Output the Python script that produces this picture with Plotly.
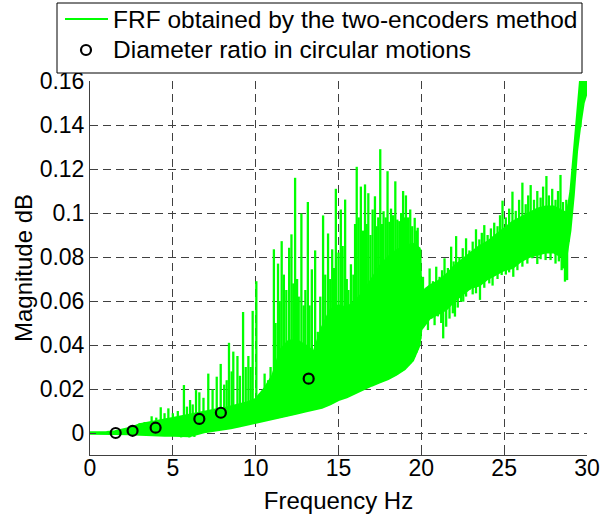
import numpy as np
import plotly.graph_objects as go

# ---- data ----
# solid core of the measured FRF (lower / upper edge)
band_freq = [0.0, 0.5, 1.0, 1.5, 2.0, 2.5, 3.0, 3.5, 4.0, 4.5, 5.0, 5.5, 6.0, 6.5, 7.0, 7.5,
             8.0, 8.5, 9.0, 9.5, 10.0, 10.5, 11.0, 11.5, 12.0, 12.5, 13.0, 13.5, 14.0, 14.5,
             15.0, 15.5, 16.0, 16.5, 17.0, 17.5, 18.0, 18.5, 19.0, 19.5, 19.9,
             20.0, 20.5, 21.0, 21.5, 22.0, 22.5, 23.0, 23.5, 24.0, 24.5, 25.0, 25.5, 26.0,
             26.5, 27.0, 27.5, 28.0, 28.5, 28.8, 29.0, 29.2, 29.4, 29.6, 29.8, 30.0]
band_low = [-0.0003, -0.0003, -0.0004, -0.0005, -0.0006, -0.0006, -0.0008, -0.0010, -0.0010,
            -0.0012, -0.0012, -0.0015, -0.0015, -0.0005, 0.0005, 0.0010, 0.0015, 0.0022,
            0.0030, 0.0038, 0.0045, 0.0055, 0.0062, 0.0070, 0.0078, 0.0088, 0.0098, 0.0106,
            0.0115, 0.0130, 0.0150, 0.0162, 0.0180, 0.0198, 0.0215, 0.0230, 0.0245, 0.0265,
            0.0290, 0.0330, 0.0400,
            0.0470, 0.0520, 0.0540, 0.0560, 0.0600, 0.0630, 0.0660, 0.0670, 0.0700, 0.0720,
            0.0740, 0.0750, 0.0780, 0.0800, 0.0810, 0.0820, 0.0820, 0.0800, 0.0820, 0.0920,
            0.1080, 0.1280, 0.1400, 0.1500, 0.1550]
band_high = [0.0003, 0.0003, 0.0005, 0.0008, 0.0015, 0.0025, 0.0040, 0.0048, 0.0055, 0.0062,
             0.0068, 0.0076, 0.0085, 0.0092, 0.0100, 0.0106, 0.0112, 0.0122, 0.0130, 0.0140,
             0.0155, 0.0200, 0.0260, 0.0380, 0.0420, 0.0420, 0.0400, 0.0370, 0.0480, 0.0560,
             0.0580, 0.0570, 0.0600, 0.0640, 0.0700, 0.0760, 0.0800, 0.0830, 0.0850, 0.0860,
             0.0840,
             0.0640, 0.0670, 0.0690, 0.0720, 0.0760, 0.0790, 0.0820, 0.0850, 0.0870, 0.0900,
             0.0930, 0.0960, 0.0980, 0.1000, 0.1020, 0.1030, 0.1030, 0.1010, 0.1000, 0.1100,
             0.1280, 0.1480, 0.1620, 0.1700, 0.1750]

# upward peaks (frequency, peak value)
spike_freq = [2.5, 3.0, 3.3, 3.72, 4.0, 4.27, 4.5, 4.73, 5.0, 5.3, 5.67, 5.85, 6.04, 6.2,
              6.4, 6.6, 6.85, 7.14, 7.4, 7.65, 7.89, 8.1, 8.25, 8.39, 8.55, 8.65, 8.9, 9.05,
              9.24, 9.4, 9.56, 9.7, 9.82, 10.04, 10.26,
              10.54, 10.75, 10.9, 11.1, 11.2, 11.35, 11.45, 11.57, 11.7, 11.85, 12.02, 12.16,
              12.27, 12.38, 12.5, 12.6, 12.76, 12.9, 13.0, 13.15, 13.25, 13.39, 13.59, 13.75,
              13.9, 14.07, 14.2, 14.37, 14.5, 14.62, 14.72, 14.84, 15.0, 15.14, 15.25, 15.4,
              15.5, 15.6, 15.75, 15.9, 16.0, 16.1, 16.22, 16.35, 16.47, 16.6, 16.7, 16.8,
              16.93, 17.06, 17.2, 17.3, 17.4, 17.52, 17.62, 17.72, 17.85, 17.96, 18.07, 18.17,
              18.3, 18.43, 18.55, 18.67, 18.78, 18.9, 19.0, 19.07, 19.2, 19.33, 19.45, 19.6,
              19.7, 19.78, 19.94,
              20.1, 20.3, 20.5, 20.7, 20.9, 21.1, 21.25, 21.4, 21.6, 21.8, 21.95, 22.1, 22.3,
              22.5, 22.7, 22.9, 23.1, 23.3, 23.5, 23.65, 23.8, 24.0, 24.2, 24.4, 24.6, 24.75,
              24.9, 25.1, 25.3, 25.5, 25.7, 25.9, 26.1, 26.3, 26.45, 26.6, 26.8, 27.0, 27.2,
              27.35, 27.55, 27.7, 27.9, 28.1, 28.25, 28.4, 28.55, 28.75, 28.9]
spike_top = [0.0030, 0.0045, 0.0050, 0.0076, 0.0070, 0.0117, 0.0090, 0.0112, 0.0090, 0.0100,
             0.0218, 0.0120, 0.0150, 0.0130, 0.0195, 0.0185, 0.0160, 0.0270, 0.0198, 0.0256,
             0.0314, 0.0220, 0.0240, 0.0410, 0.0280, 0.0370, 0.0350, 0.0260, 0.0550, 0.0300,
             0.0350, 0.0300, 0.0555, 0.0690, 0.0180,
             0.0270, 0.0240, 0.0300, 0.0835, 0.0500, 0.0770, 0.0600, 0.0872, 0.0720, 0.0650,
             0.0842, 0.0903, 0.0680, 0.1160, 0.0700, 0.0620, 0.0998, 0.0580, 0.0650, 0.1050,
             0.0580, 0.0744, 0.0830, 0.0460, 0.0620, 0.0989, 0.0720, 0.0907, 0.0700, 0.0835,
             0.0750, 0.1110, 0.0820, 0.1016, 0.0850, 0.1061, 0.0700, 0.0650, 0.0767, 0.0720,
             0.0950, 0.1210, 0.0980, 0.1120, 0.0920, 0.1130, 0.0950, 0.1090, 0.0900, 0.1016,
             0.1076, 0.0940, 0.0980, 0.1290, 0.0950, 0.1008, 0.0980, 0.1190, 0.0960, 0.1020,
             0.0990, 0.1144, 0.0970, 0.0963, 0.1000, 0.1100, 0.0980, 0.1080, 0.0980, 0.1016,
             0.0940, 0.0978, 0.0920, 0.0933, 0.0835,
             0.0710, 0.0660, 0.0748, 0.0690, 0.0756, 0.0710, 0.0740, 0.0794, 0.0750, 0.0847,
             0.0780, 0.0895, 0.0800, 0.0840, 0.0885, 0.0830, 0.0870, 0.0926, 0.0880, 0.0910,
             0.0945, 0.0900, 0.0930, 0.0956, 0.0940, 0.0990, 0.1056, 0.0980, 0.1020, 0.1097,
             0.1010, 0.1060, 0.1138, 0.1040, 0.1080, 0.1127, 0.1060, 0.1100, 0.1070, 0.1120,
             0.1168, 0.1080, 0.1110, 0.1060, 0.1100, 0.1173, 0.1050, 0.1060, 0.1040]

# downward dips (frequency, dip value)
dip_freq = [5.5, 6.0, 6.3, 20.2, 20.4, 20.6, 20.8, 21.0, 21.2, 21.32, 21.5, 21.7, 21.9, 22.03,
            22.2, 22.4, 22.53, 22.7, 22.9, 23.1, 23.3, 23.54, 23.8, 24.1, 24.3, 24.6, 24.85,
            25.1, 25.3, 25.55, 25.8, 26.1, 26.4, 26.7, 27.0, 27.2, 27.5, 27.8, 28.1, 28.3,
            28.47, 28.55, 28.67, 28.8, 29.6]
dip_low = [-0.0020, -0.0020, -0.0018, 0.0500, 0.0468, 0.0520, 0.0490, 0.0530, 0.0500, 0.0430,
           0.0483, 0.0520, 0.0544, 0.0529, 0.0570, 0.0597, 0.0597, 0.0620, 0.0650, 0.0630,
           0.0635, 0.0605, 0.0660, 0.0680, 0.0670, 0.0700, 0.0718, 0.0720, 0.0730, 0.0710,
           0.0740, 0.0756, 0.0770, 0.0794, 0.0768, 0.0790, 0.0786, 0.0786, 0.0770, 0.0780,
           0.0740, 0.0748, 0.0688, 0.0695, 0.1390]

circle_freq = [1.55, 2.57, 3.96, 6.60, 7.90, 13.20]
circle_val = [0.0000, 0.0010, 0.0024, 0.0064, 0.0092, 0.0247]

x_ticks = [0, 5, 10, 15, 20, 25, 30]
y_ticks = [0, 0.02, 0.04, 0.06, 0.08, 0.1, 0.12, 0.14, 0.16]
y_ticktext = ["0", "0.02", "0.04", "0.06", "0.08", "0.1", "0.12", "0.14", "0.16"]

legend_labels = ["FRF obtained by the two-encoders method",
                 "Diameter ratio in circular motions"]

GREEN = "#00FF00"
FONT = "Liberation Sans"

# vertical segments for peaks (from the core's lower edge up) and dips (up to the core's top)
sx, sy = [], []
for f, t in zip(spike_freq, spike_top):
    base = float(np.interp(f, band_freq, band_low))
    sx += [f, f, None]
    sy += [base, t, None]
for f, d in zip(dip_freq, dip_low):
    top = float(np.interp(f, band_freq, band_high))
    sx += [f, f, None]
    sy += [d, top, None]

fig = go.Figure()
fig.add_trace(go.Scatter(x=sx, y=sy, mode="lines", line=dict(color=GREEN, width=2.3),
                         name=legend_labels[0], showlegend=False))
fig.add_trace(go.Scatter(x=band_freq, y=band_low, mode="lines",
                         line=dict(color=GREEN, width=2), showlegend=False, hoverinfo="skip"))
fig.add_trace(go.Scatter(x=band_freq, y=band_high, mode="lines", fill="tonexty",
                         fillcolor=GREEN, line=dict(color=GREEN, width=2),
                         showlegend=False, hoverinfo="skip"))
fig.add_trace(go.Scatter(x=circle_freq, y=circle_val, mode="markers",
                         marker=dict(symbol="circle-open", size=10, color="black",
                                     line=dict(width=2.2, color="black")),
                         name=legend_labels[1], showlegend=False))

axis_common = dict(
    showgrid=True, gridcolor="#404040", griddash="8px,5px", gridwidth=1,
    showline=True, linecolor="#404040", linewidth=1,
    ticks="inside", ticklen=6, tickcolor="#404040", tickwidth=1,
    zeroline=False, mirror=False,
    tickfont=dict(family=FONT, size=23, color="black"),
)

# ---- legend box drawn in paper coordinates (plot area: 90..587 px wide, 81..455 px tall)
W, H, L, B = 497.0, 374.0, 90.0, 455.0
def px(x):
    return (x - L) / W
def py(y):
    return (B - y) / H

shapes = [
    dict(type="rect", xref="paper", yref="paper", x0=px(57), x1=px(582), y0=py(73), y1=py(3),
         line=dict(color="black", width=1), fillcolor="white", layer="above"),
    dict(type="line", xref="paper", yref="paper", x0=px(65), x1=px(108), y0=py(19), y1=py(19),
         line=dict(color=GREEN, width=2), layer="above"),
    dict(type="circle", xref="paper", yref="paper", xsizemode="pixel", ysizemode="pixel",
         xanchor=px(86), yanchor=py(50), x0=-5, x1=5, y0=-5, y1=5,
         line=dict(color="black", width=2.2), layer="above"),
]
annotations = [
    dict(text=legend_labels[0], xref="paper", yref="paper", x=px(111), y=py(19),
         xanchor="left", yanchor="middle", showarrow=False,
         font=dict(family=FONT, size=24.5, color="black")),
    dict(text=legend_labels[1], xref="paper", yref="paper", x=px(111), y=py(50),
         xanchor="left", yanchor="middle", showarrow=False,
         font=dict(family=FONT, size=24.5, color="black")),
]

fig.update_layout(
    width=603, height=521,
    margin=dict(l=90, r=16, t=81, b=66, autoexpand=False),
    plot_bgcolor="white", paper_bgcolor="white",
    font=dict(family=FONT, size=23, color="black"),
    xaxis=dict(range=[0, 30], tickvals=x_ticks, ticklabelstandoff=-8,
               title=dict(text="Frequency Hz", font=dict(family=FONT, size=24), standoff=12),
               **axis_common),
    yaxis=dict(range=[-0.01, 0.16], tickvals=y_ticks, ticktext=y_ticktext,
               title=dict(text="Magnitude dB", font=dict(family=FONT, size=24), standoff=0),
               **axis_common),
    shapes=shapes,
    annotations=annotations,
    showlegend=False,
)

fig.write_html("out.html", config={"displayModeBar": False},
               post_script="document.body.style.margin='0';"
                           "document.body.style.overflow='hidden';")
